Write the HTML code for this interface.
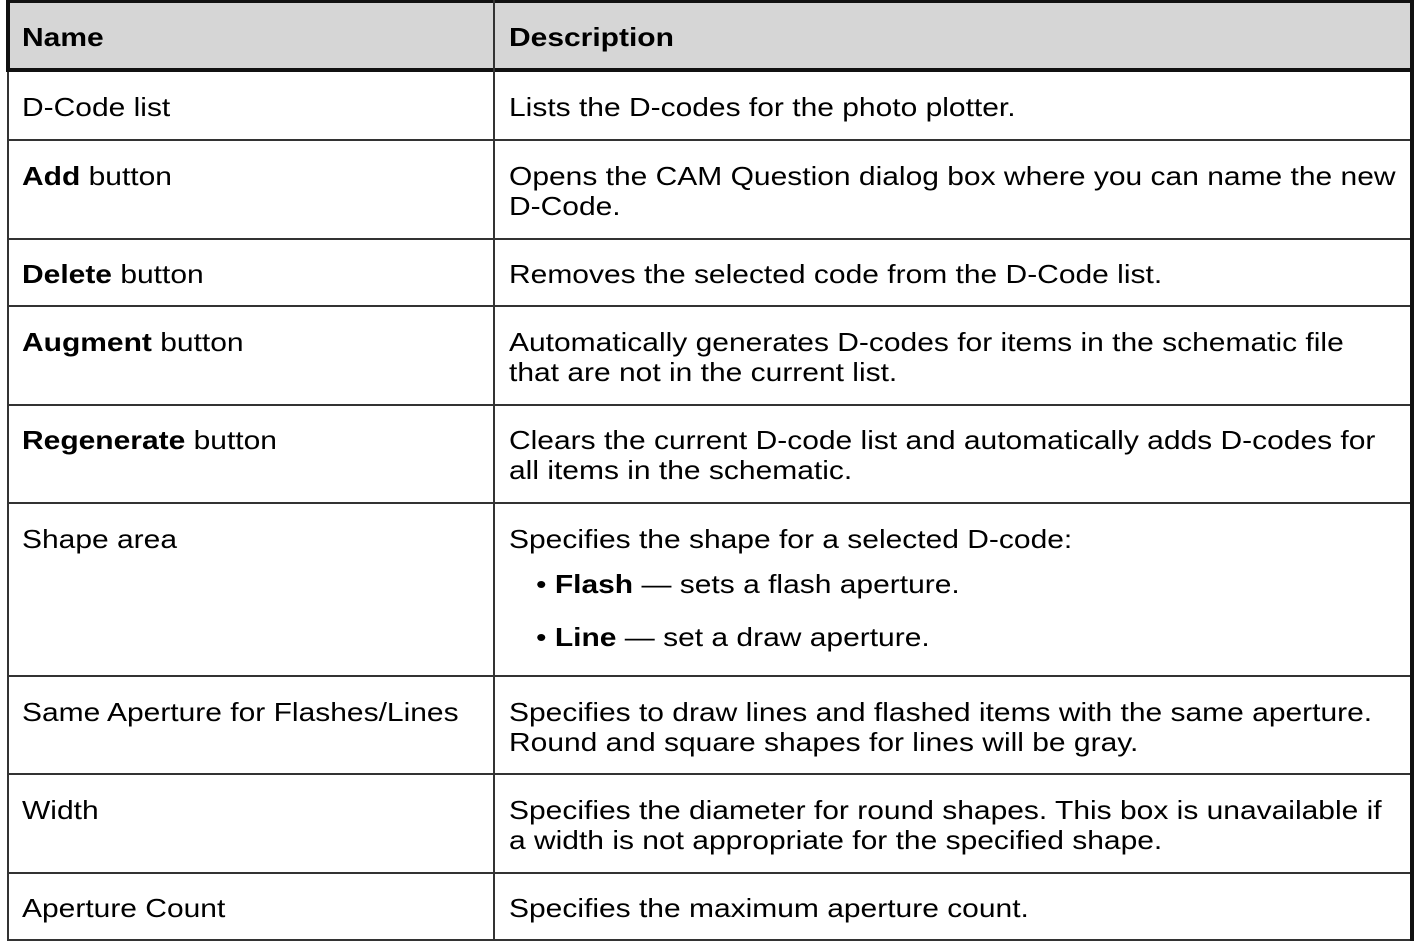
<!DOCTYPE html>
<html><head><meta charset="utf-8"><style>
body{margin:0;width:1416px;height:942px;background:#fff;position:relative;overflow:hidden;font-family:"Liberation Sans",Arial,sans-serif;font-size:26px;color:#000}
.l{position:absolute;background:#333}
.t{position:absolute;line-height:30px;white-space:nowrap;transform:scaleX(1.153);transform-origin:0 0}
</style></head><body>
<div style="position:absolute;left:8px;top:0;width:1404px;height:70px;background:#d6d6d6"></div>
<div class="l" style="left:7px;top:0;width:1407px;height:3px;background:#111"></div>
<div class="l" style="left:7px;top:68px;width:1407px;height:4px;background:#111"></div>
<div class="l" style="left:7px;top:139px;width:1407px;height:2px"></div>
<div class="l" style="left:7px;top:238px;width:1407px;height:2px"></div>
<div class="l" style="left:7px;top:305px;width:1407px;height:2px"></div>
<div class="l" style="left:7px;top:404px;width:1407px;height:2px"></div>
<div class="l" style="left:7px;top:502px;width:1407px;height:2px"></div>
<div class="l" style="left:7px;top:675px;width:1407px;height:2px"></div>
<div class="l" style="left:7px;top:773px;width:1407px;height:2px"></div>
<div class="l" style="left:7px;top:872px;width:1407px;height:2px"></div>
<div class="l" style="left:7px;top:939px;width:1407px;height:2px"></div>
<div class="l" style="left:6px;top:0;width:4px;height:72px;background:#111"></div>
<div class="l" style="left:7px;top:72px;width:2px;height:869px"></div>
<div class="l" style="left:493px;top:0;width:2px;height:941px"></div>
<div class="l" style="left:1410px;top:0;width:4px;height:941px;background:#111"></div>

<div class="t" style="left:22px;top:22px;font-weight:bold">Name</div>
<div class="t" style="left:509px;top:22px;font-weight:bold">Description</div>

<div class="t" style="left:22px;top:92px">D-Code list</div>
<div class="t" style="left:509px;top:92px">Lists the D-codes for the photo plotter.</div>

<div class="t" style="left:22px;top:161px"><b>Add</b> button</div>
<div class="t" style="left:509px;top:161px">Opens the CAM Question dialog box where you can name the new<br>D-Code.</div>

<div class="t" style="left:22px;top:259px"><b>Delete</b> button</div>
<div class="t" style="left:509px;top:259px">Removes the selected code from the D-Code list.</div>

<div class="t" style="left:22px;top:327px"><b>Augment</b> button</div>
<div class="t" style="left:509px;top:327px">Automatically generates D-codes for items in the schematic file<br>that are not in the current list.</div>

<div class="t" style="left:22px;top:425px"><b>Regenerate</b> button</div>
<div class="t" style="left:509px;top:425px">Clears the current D-code list and automatically adds D-codes for<br>all items in the schematic.</div>

<div class="t" style="left:22px;top:524px">Shape area</div>
<div class="t" style="left:509px;top:524px">Specifies the shape for a selected D-code:</div>
<div class="t" style="left:536px;top:569px">• <b>Flash</b> — sets a flash aperture.</div>
<div class="t" style="left:536px;top:622px">• <b>Line</b> — set a draw aperture.</div>

<div class="t" style="left:22px;top:697px">Same Aperture for Flashes/Lines</div>
<div class="t" style="left:509px;top:697px">Specifies to draw lines and flashed items with the same aperture.<br>Round and square shapes for lines will be gray.</div>

<div class="t" style="left:22px;top:795px">Width</div>
<div class="t" style="left:509px;top:795px">Specifies the diameter for round shapes. This box is unavailable if<br>a width is not appropriate for the specified shape.</div>

<div class="t" style="left:22px;top:893px">Aperture Count</div>
<div class="t" style="left:509px;top:893px">Specifies the maximum aperture count.</div>
</body></html>
